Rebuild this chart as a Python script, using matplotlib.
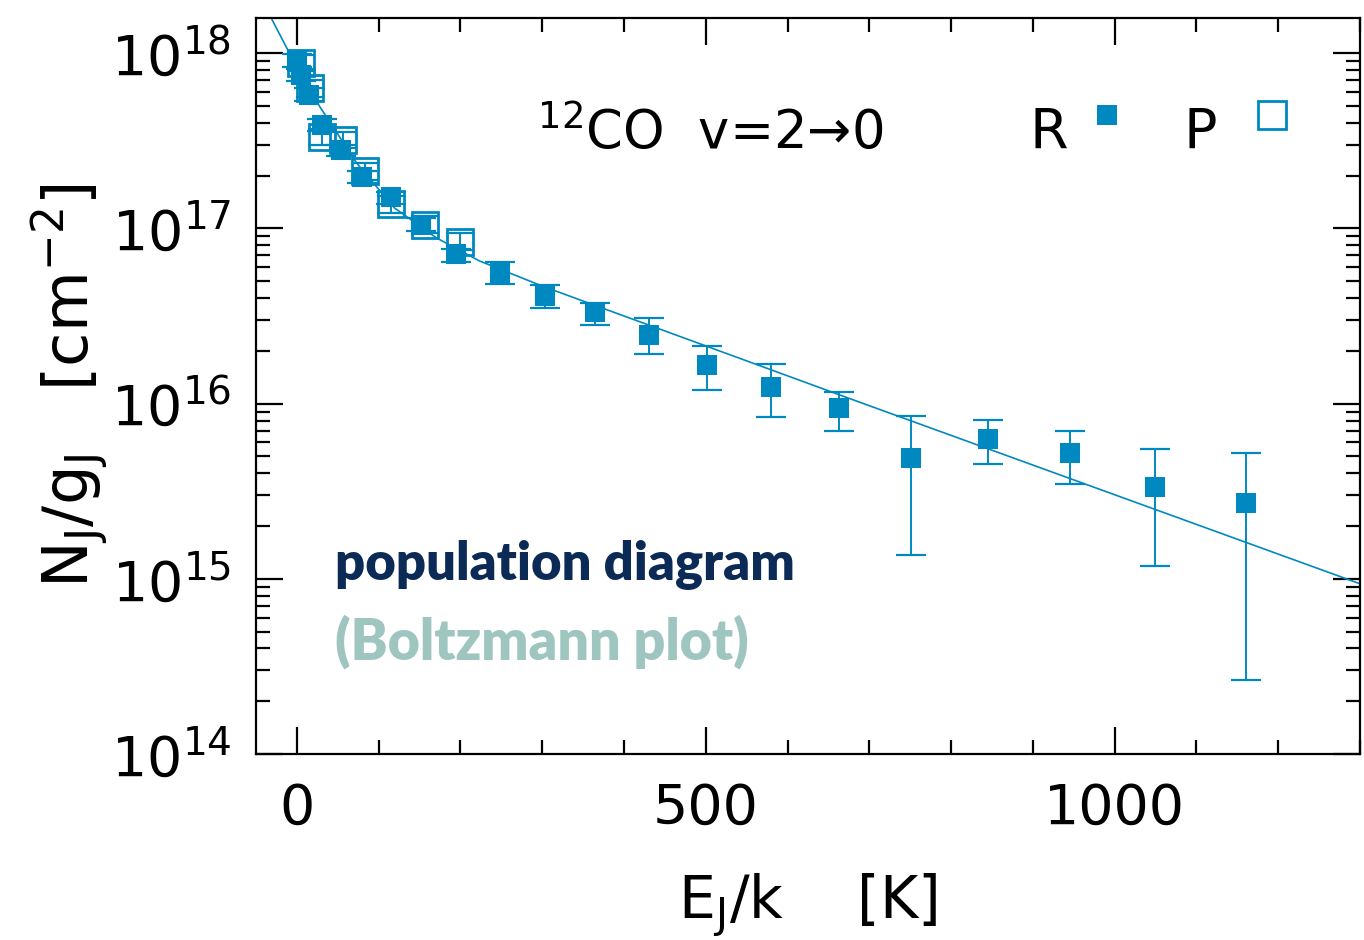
import matplotlib
matplotlib.use("Agg")
import matplotlib.pyplot as plt
from matplotlib.ticker import LogLocator, MultipleLocator, NullFormatter
import numpy as np

# --- R branch (filled squares): upper level energy [K], N_J/g_J [cm^-2], error limits
E_R = [0, 5, 15, 31, 54, 80, 115, 152, 195, 248, 304, 364, 430, 502, 580,
       663, 751, 845, 945, 1049, 1160]
N_R = [9.1e17, 7.5e17, 5.8e17, 3.9e17, 2.8e17, 1.97e17, 1.5e17, 1.05e17,
       7.1e16, 5.55e16, 4.12e16, 3.33e16, 2.47e16, 1.65e16, 1.25e16,
       9.4e15, 4.9e15, 6.3e15, 5.2e15, 3.33e15, 2.7e15]
N_R_hi = [9.9e17, 8.1e17, 6.3e17, 4.2e17, 3.0e17, 2.13e17, 1.62e17, 1.14e17,
          7.6e16, 6.38e16, 4.74e16, 3.75e16, 3.07e16, 2.14e16, 1.68e16,
          1.17e16, 8.5e15, 8.1e15, 7.0e15, 5.5e15, 5.2e15]
N_R_lo = [8.3e17, 6.9e17, 5.3e17, 3.6e17, 2.6e17, 1.82e17, 1.38e17, 0.97e17,
          6.4e16, 4.81e16, 3.51e16, 2.79e16, 1.92e16, 1.20e16, 8.4e15,
          7.0e15, 1.37e15, 4.5e15, 3.47e15, 1.18e15, 2.64e14]

# --- P branch (open squares)
E_P = [5, 16, 31, 56, 83, 115, 157, 199]
N_P = [8.8e17, 6.3e17, 3.33e17, 3.2e17, 2.11e17, 1.37e17, 1.05e17, 8.4e16]
N_P_hi = [9.8e17, 7.0e17, 3.7e17, 3.55e17, 2.35e17, 1.52e17, 1.17e17, 9.4e16]
N_P_lo = [7.9e17, 5.6e17, 2.98e17, 2.86e17, 1.89e17, 1.23e17, 0.94e17, 7.5e16]

# --- two-temperature fit curve
E_fit = [-50, -30, -12, 28, 73, 119, 170, 223, 300, 676, 1299]
N_fit = [2.4e18, 1.54e18, 1.06e18, 4.94e17, 2.36e17, 1.31e17, 8.85e16,
         6.52e16, 4.68e16, 1.067e16, 9.4e14]

BLUE = "#0089c1"
NAVY = "#0c2a56"
SAGE = "#9fc5c1"

plt.rcParams["font.family"] = ["DejaVu Sans"]
plt.rcParams["mathtext.default"] = "regular"

fig = plt.figure(figsize=(13.64, 9.40), dpi=100)
ax = fig.add_axes([256 / 1364, 1 - 754 / 940, 1104 / 1364, 736 / 940])

ax.set_yscale("log")
ax.set_xlim(-50, 1300)
ax.set_ylim(1e14, 10 ** 18.2)

ax.plot(E_fit, N_fit, color=BLUE, lw=1.2, zorder=2)

# P branch: error bars then open squares
P_err = [np.array(N_P) - np.array(N_P_lo), np.array(N_P_hi) - np.array(N_P)]
ax.errorbar(E_P, N_P, yerr=P_err, fmt="none", ecolor=BLUE, elinewidth=1.4,
            capsize=10, capthick=1.6, zorder=3)
ax.plot(E_P, N_P, ls="none", marker="s", ms=19, mfc="none", mec=BLUE,
        mew=2.0, zorder=3)

# R branch: error bars then filled squares
R_err = [np.array(N_R) - np.array(N_R_lo), np.array(N_R_hi) - np.array(N_R)]
ax.errorbar(E_R, N_R, yerr=R_err, fmt="none", ecolor=BLUE, elinewidth=1.4,
            capsize=11, capthick=1.6, zorder=4)
ax.plot(E_R, N_R, ls="none", marker="s", ms=14.5, mfc=BLUE, mec=BLUE,
        mew=0, zorder=4)

# axes styling
for s in ax.spines.values():
    s.set_linewidth(1.6)
ax.xaxis.set_major_locator(MultipleLocator(500))
ax.xaxis.set_minor_locator(MultipleLocator(100))
ax.yaxis.set_major_locator(LogLocator(base=10, numticks=10))
ax.yaxis.set_minor_locator(LogLocator(base=10, subs=np.arange(2, 10), numticks=20))
ax.yaxis.set_minor_formatter(NullFormatter())
ax.tick_params(which="both", direction="in", top=True, right=True, width=1.6,
               labelsize=40, colors="black")
ax.tick_params(which="major", length=19.5)
ax.tick_params(which="minor", length=10)
ax.tick_params(axis="x", which="major", pad=20)
ax.tick_params(axis="y", which="major", pad=18)

ax.set_xlabel("E$_{J}$/k    [K]", fontsize=42, labelpad=26)
ax.set_ylabel("N$_{J}$/g$_{J}$   [cm$^{-2}$]", fontsize=45, labelpad=0)

ax.text(0.2545, 0.822, "$^{12}$CO  v=2\u21920", transform=ax.transAxes,
        fontsize=38, va="baseline", ha="left")

# branch key
ax.text(0.701, 0.823, "R", transform=ax.transAxes, fontsize=40,
        va="baseline", ha="left")
ax.plot([0.771], [0.868], transform=ax.transAxes, ls="none", marker="s",
        ms=14, mfc=BLUE, mew=0, clip_on=False)
ax.text(0.8397, 0.823, "P", transform=ax.transAxes, fontsize=40,
        va="baseline", ha="left")
ax.plot([0.9203], [0.868], transform=ax.transAxes, ls="none", marker="s",
        ms=20, mfc="none", mec=BLUE, mew=2.0, clip_on=False)

ax.text(0.0716, 0.236, "population diagram", transform=ax.transAxes,
        fontsize=37.8, fontweight="heavy", family="Lato", color=NAVY,
        va="baseline", ha="left")
ax.text(0.0716, 0.128, "(Boltzmann plot)", transform=ax.transAxes,
        fontsize=40, fontweight="heavy", family="Lato", color=SAGE,
        va="baseline", ha="left")

fig.savefig("out.png", dpi=100)
